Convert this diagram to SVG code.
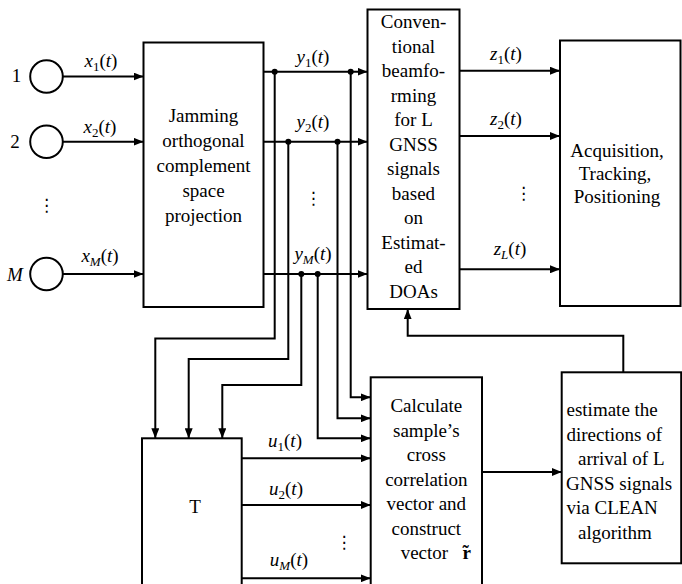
<svg xmlns="http://www.w3.org/2000/svg" width="682" height="584" viewBox="0 0 682 584">
<defs>
<marker id="ah" viewBox="0 0 10 8" refX="10" refY="4" markerWidth="10" markerHeight="8" markerUnits="userSpaceOnUse" orient="auto">
<path d="M0,0 L10,4 L0,8 z" fill="#000"/>
</marker>
<style>
.box{fill:#fff;stroke:#000;stroke-width:2}
.ant{fill:#fff;stroke:#000;stroke-width:2}
.w{fill:none;stroke:#000;stroke-width:2}
.a{fill:none;stroke:#000;stroke-width:2;marker-end:url(#ah)}
.t{font-family:"Liberation Serif","Times New Roman",serif;font-size:19px;fill:#000}
.c{text-anchor:middle}
.i{font-style:italic}
.sb{font-size:13px}
.dt{font-family:"DejaVu Sans",sans-serif;font-size:17px;fill:#000;text-anchor:middle}
</style>
</defs>
<rect width="682" height="584" fill="#fff"/>

<g id="antenna1"><circle class="ant" cx="46.5" cy="76.5" r="16.3"/><text class="t c" x="16.5" y="82">1</text></g>
<g id="antenna2"><circle class="ant" cx="46.5" cy="141.7" r="16.3"/><text class="t c" x="15" y="147.5">2</text></g>
<g id="antennaM"><circle class="ant" cx="46.5" cy="274" r="16.3"/><text class="t c i" x="15" y="281">M</text></g>
<g id="antenna-dots"><text class="dt" x="46.5" y="211">⋮</text></g>

<g id="projection"><rect class="box" x="143.5" y="42.5" width="120" height="264.5"/>
<text class="t c" x="203.5" y="121.7">Jamming</text>
<text class="t c" x="203.5" y="146.7">orthogonal</text>
<text class="t c" x="203.5" y="171.7">complement</text>
<text class="t c" x="203.5" y="196.7">space</text>
<text class="t c" x="203.5" y="221.7">projection</text>
</g>

<g id="beamforming"><rect class="box" x="367.5" y="9.5" width="92" height="299.5"/>
<text class="t c" x="413.5" y="28.3">Conven-</text>
<text class="t c" x="413.5" y="52.8">tional</text>
<text class="t c" x="413.5" y="77.3">beamfo-</text>
<text class="t c" x="413.5" y="101.8">rming</text>
<text class="t c" x="413.5" y="126.3">for L</text>
<text class="t c" x="413.5" y="150.8">GNSS</text>
<text class="t c" x="413.5" y="175.3">signals</text>
<text class="t c" x="413.5" y="199.8">based</text>
<text class="t c" x="413.5" y="224.3">on</text>
<text class="t c" x="413.5" y="248.8">Estimat-</text>
<text class="t c" x="413.5" y="273.3">ed</text>
<text class="t c" x="413.5" y="297.8">DOAs</text>
</g>

<g id="acquisition"><rect class="box" x="560" y="40.5" width="120.5" height="265.5"/>
<text class="t c" x="617" y="157">Acquisition,</text>
<text class="t c" x="615" y="180">Tracking,</text>
<text class="t c" x="617" y="203">Positioning</text>
</g>

<g id="T"><rect class="box" x="142" y="438.3" width="99.7" height="160"/>
<text class="t c" x="195" y="513">T</text>
</g>

<g id="calculate"><rect class="box" x="370.7" y="377.3" width="111.3" height="220"/>
<text class="t c" x="426.3" y="412">Calculate</text>
<text class="t c" x="426.3" y="436.5">sample’s</text>
<text class="t c" x="426.3" y="461">cross</text>
<text class="t c" x="426.3" y="485.5">correlation</text>
<text class="t c" x="426.3" y="510">vector and</text>
<text class="t c" x="426.3" y="534.5">construct</text>
<text class="t" x="400.7" y="559">vector</text>
<text class="t" x="462.5" y="559" font-weight="bold" font-size="22">r<tspan dx="-8.4" dy="-1">˜</tspan></text>
</g>

<g id="estimate"><rect class="box" x="561.7" y="372.3" width="119.5" height="191"/>
<text class="t" x="566.5" y="416">estimate the</text>
<text class="t" x="566.5" y="440.5">directions of</text>
<text class="t" x="578" y="465">arrival of L</text>
<text class="t" x="566" y="489.5">GNSS signals</text>
<text class="t" x="566.5" y="514">via CLEAN</text>
<text class="t" x="578" y="538.5">algorithm</text>
</g>

<g id="connectors">
<line class="a" x1="62.8" y1="76.5" x2="143.5" y2="76.5"/>
<line class="a" x1="62.8" y1="141.7" x2="143.5" y2="141.7"/>
<line class="a" x1="62.8" y1="274" x2="143.5" y2="274"/>

<line class="a" x1="263.5" y1="71.7" x2="367.5" y2="71.7"/>
<line class="a" x1="263.5" y1="141.7" x2="367.5" y2="141.7"/>
<line class="a" x1="263.5" y1="274" x2="367.5" y2="274"/>

<polyline class="a" points="274.7,71.7 274.7,338.5 155.3,338.5 155.3,438.3"/>
<polyline class="a" points="288.3,141.7 288.3,359 188.7,359 188.7,438.3"/>
<polyline class="a" points="301.3,274 301.3,385 222.3,385 222.3,438.3"/>
<polyline class="a" points="350.7,71.7 350.7,397.3 370.7,397.3"/>
<polyline class="a" points="337.5,141.7 337.5,418.3 370.7,418.3"/>
<polyline class="a" points="317.7,274 317.7,438.3 370.7,438.3"/>

<circle cx="274.7" cy="71.7" r="3"/>
<circle cx="350.7" cy="71.7" r="3"/>
<circle cx="288.3" cy="141.7" r="3"/>
<circle cx="337.5" cy="141.7" r="3"/>
<circle cx="301.3" cy="274" r="3"/>
<circle cx="317.7" cy="274" r="3"/>

<line class="a" x1="241.7" y1="458.3" x2="370.7" y2="458.3"/>
<line class="a" x1="241.7" y1="505" x2="370.7" y2="505"/>
<line class="a" x1="241.7" y1="578.3" x2="370.7" y2="578.3"/>

<line class="a" x1="482" y1="472" x2="561.7" y2="472"/>
<polyline class="a" points="623.3,372.3 623.3,335.7 407.7,335.7 407.7,309.3"/>

<line class="a" x1="459.5" y1="70.7" x2="560" y2="70.7"/>
<line class="a" x1="459.5" y1="136" x2="560" y2="136"/>
<line class="a" x1="459.5" y1="269.3" x2="560" y2="269.3"/>
</g>

<g id="labels">
<text class="t c" x="101" y="67"><tspan class="i">x</tspan><tspan class="sb" dy="4">1</tspan><tspan dy="-4">(</tspan><tspan class="i">t</tspan>)</text>
<text class="t c" x="100" y="133"><tspan class="i">x</tspan><tspan class="sb" dy="4">2</tspan><tspan dy="-4">(</tspan><tspan class="i">t</tspan>)</text>
<text class="t c" x="100" y="262"><tspan class="i">x</tspan><tspan class="sb i" dy="4">M</tspan><tspan dy="-4">(</tspan><tspan class="i">t</tspan>)</text>

<text class="t c" x="313" y="63"><tspan class="i">y</tspan><tspan class="sb" dy="4">1</tspan><tspan dy="-4">(</tspan><tspan class="i">t</tspan>)</text>
<text class="t c" x="313" y="128"><tspan class="i">y</tspan><tspan class="sb" dy="4">2</tspan><tspan dy="-4">(</tspan><tspan class="i">t</tspan>)</text>
<text class="t c" x="313" y="260"><tspan class="i">y</tspan><tspan class="sb i" dy="4">M</tspan><tspan dy="-4">(</tspan><tspan class="i">t</tspan>)</text>
<text class="dt" x="313.3" y="204">⋮</text>

<text class="t c" x="506" y="60"><tspan class="i">z</tspan><tspan class="sb" dy="4">1</tspan><tspan dy="-4">(</tspan><tspan class="i">t</tspan>)</text>
<text class="t c" x="506" y="125"><tspan class="i">z</tspan><tspan class="sb" dy="4">2</tspan><tspan dy="-4">(</tspan><tspan class="i">t</tspan>)</text>
<text class="t c" x="510" y="255"><tspan class="i">z</tspan><tspan class="sb i" dy="4">L</tspan><tspan dy="-4">(</tspan><tspan class="i">t</tspan>)</text>
<text class="dt" x="523.5" y="199">⋮</text>

<text class="t c" x="285" y="447"><tspan class="i">u</tspan><tspan class="sb" dy="4">1</tspan><tspan dy="-4">(</tspan><tspan class="i">t</tspan>)</text>
<text class="t c" x="286" y="495"><tspan class="i">u</tspan><tspan class="sb" dy="4">2</tspan><tspan dy="-4">(</tspan><tspan class="i">t</tspan>)</text>
<text class="t c" x="289" y="566"><tspan class="i">u</tspan><tspan class="sb i" dy="4">M</tspan><tspan dy="-4">(</tspan><tspan class="i">t</tspan>)</text>
<text class="dt" x="344" y="547.5">⋮</text>
</g>
</svg>
